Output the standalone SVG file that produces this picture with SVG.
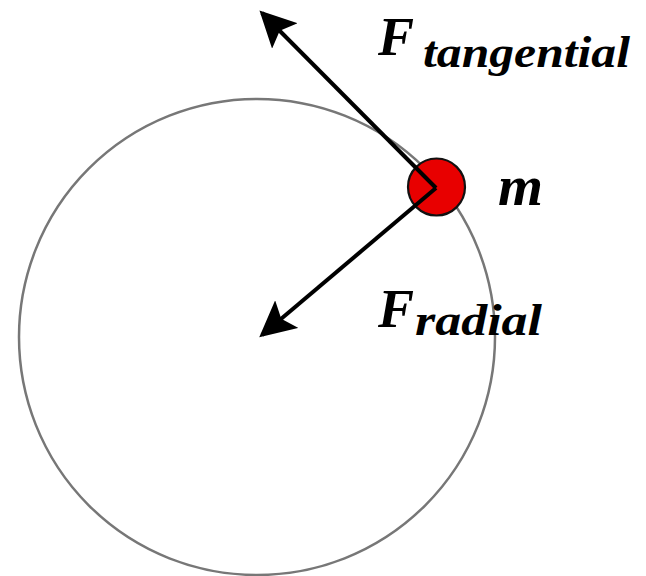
<svg xmlns="http://www.w3.org/2000/svg" width="646" height="576" viewBox="0 0 646 576">
<style>
.lbl{font-family:"Liberation Serif","DejaVu Serif",serif;font-style:italic;font-weight:bold;fill:#000}
.big{font-size:54px}
.sub{font-size:44px}
.arr{stroke:#000;stroke-width:4;fill:none}
</style>
<defs>
<marker id="ah" viewBox="0 0 10 10" refX="9" refY="5" markerWidth="9" markerHeight="9" markerUnits="strokeWidth" orient="auto">
<path d="M0,0 L10,5 L0,10 L2,5 Z" fill="#000"/>
</marker>
</defs>
<rect width="646" height="576" fill="#fff"/>
<g id="orbit">
<circle cx="257" cy="337" r="238" fill="none" stroke="#777" stroke-width="2.5"/>
</g>
<g id="mass">
<circle cx="436.5" cy="187" r="28.5" fill="#e80000" stroke="#111" stroke-width="2.2"/>
</g>
<g id="connectors">
<line class="arr" x1="436" y1="188" x2="262" y2="13" marker-end="url(#ah)"/>
<line class="arr" x1="436" y1="188" x2="262" y2="335" marker-end="url(#ah)"/>
</g>
<g id="label-tangential">
<text class="lbl big" x="378" y="55">F</text>
<text class="lbl sub" x="423" y="67" textLength="207" lengthAdjust="spacingAndGlyphs">tangential</text>
</g>
<g id="label-radial">
<text class="lbl big" x="378" y="327">F</text>
<text class="lbl sub" x="415" y="335" textLength="127" lengthAdjust="spacingAndGlyphs">radial</text>
</g>
<g id="label-m">
<text class="lbl" style="font-size:58px" x="498" y="205" textLength="45" lengthAdjust="spacingAndGlyphs">m</text>
</g>
</svg>
